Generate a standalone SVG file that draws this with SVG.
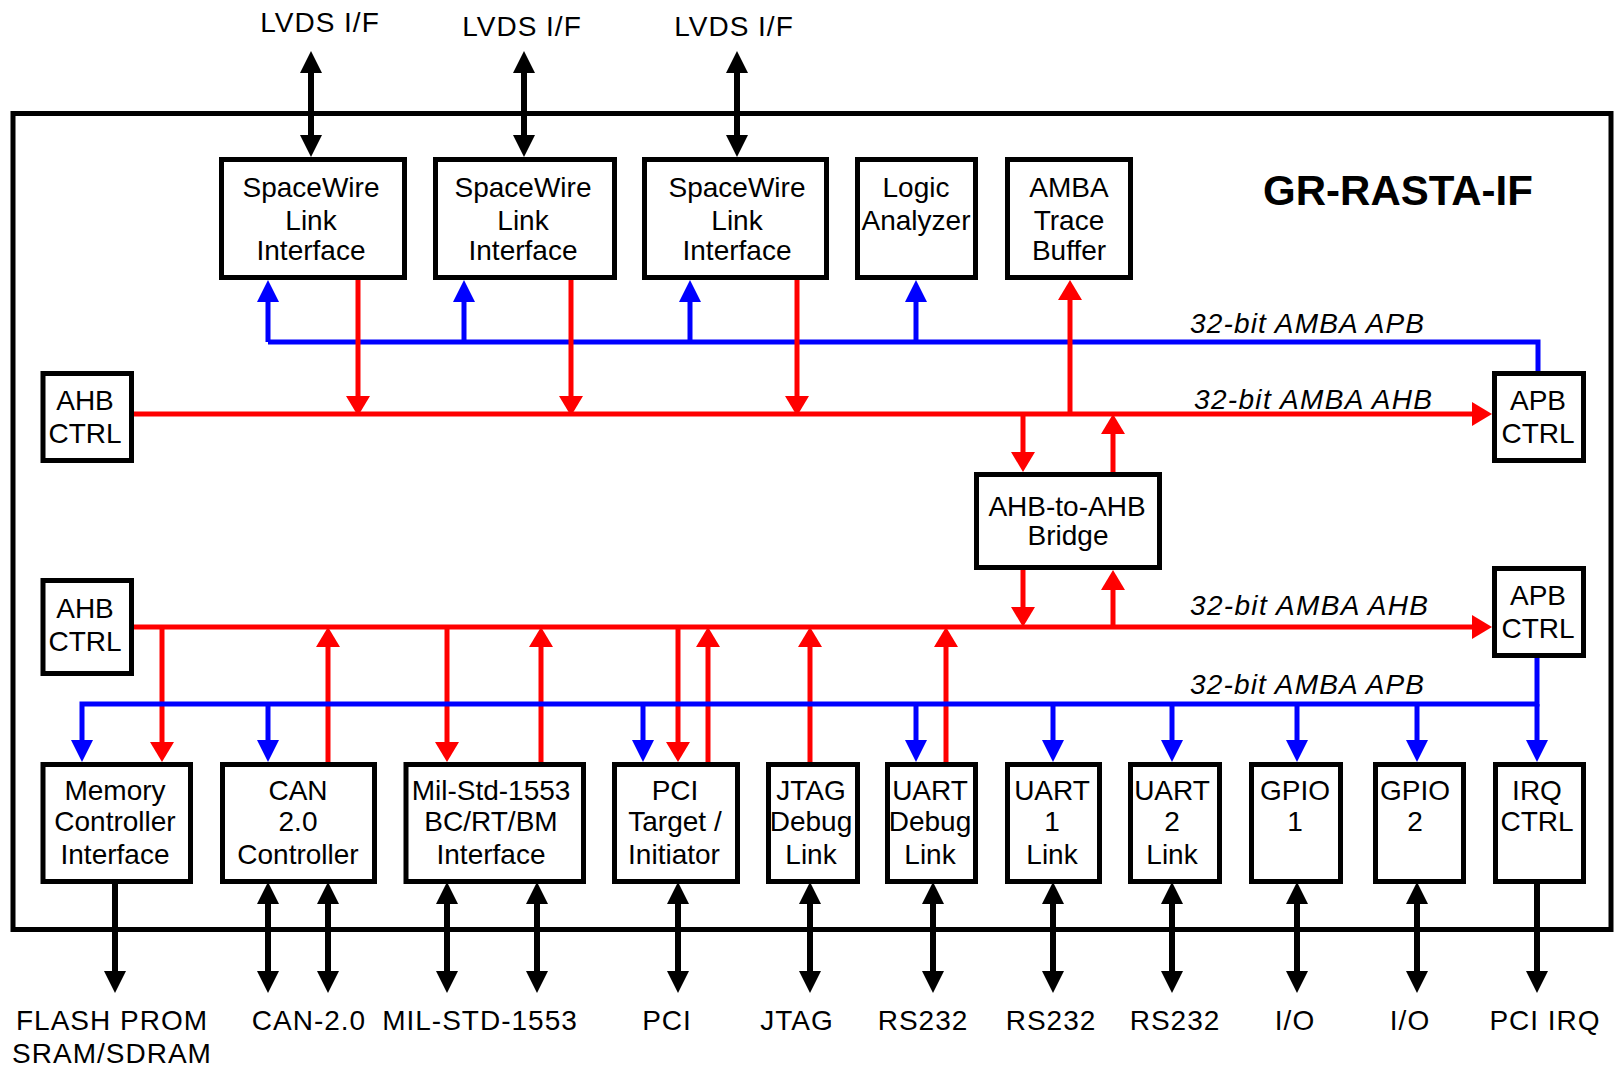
<svg xmlns="http://www.w3.org/2000/svg" width="1617" height="1068" viewBox="0 0 1617 1068">
<style>
.box{fill:#fff;stroke:#000;stroke-width:5}
.frame{fill:none;stroke:#000;stroke-width:5}
text{font-family:"Liberation Sans",Arial,Helvetica,sans-serif;font-size:28px;fill:#000;text-anchor:middle}
.ext text{letter-spacing:1px}
.bus{font-style:italic;text-anchor:start}
.title{font-weight:bold;font-size:42px}
.red{stroke:#f00;stroke-width:5;fill:none}
.blue{stroke:#00f;stroke-width:5;fill:none}
.blk{stroke:#000;stroke-width:6;fill:none}
</style>
<defs>
<marker id="aR" viewBox="0 0 20 24" refX="10" refY="12" markerWidth="20" markerHeight="24" markerUnits="userSpaceOnUse" orient="auto-start-reverse"><path d="M0,0 L20,12 L0,24 z" fill="#f00"/></marker>
<marker id="aB" viewBox="0 0 22 22" refX="12" refY="11" markerWidth="22" markerHeight="22" markerUnits="userSpaceOnUse" orient="auto-start-reverse"><path d="M0,0 L22,11 L0,22 z" fill="#00f"/></marker>
<marker id="aK" viewBox="0 0 22 22" refX="12" refY="11" markerWidth="22" markerHeight="22" markerUnits="userSpaceOnUse" orient="auto-start-reverse"><path d="M0,0 L22,11 L0,22 z" fill="#000"/></marker>
</defs>
<rect width="1617" height="1068" fill="#fff"/>
<g id="chip">
<rect class="frame" x="13" y="113.5" width="1598" height="816"/>
<text class="title" x="1398" y="205">GR-RASTA-IF</text>
</g>
<g id="external-labels" class="ext">
<text x="320" y="32">LVDS I/F</text>
<text x="522" y="36">LVDS I/F</text>
<text x="734" y="36">LVDS I/F</text>
<text x="112" y="1030">FLASH PROM</text>
<text x="112" y="1063">SRAM/SDRAM</text>
<text x="309" y="1030">CAN-2.0</text>
<text x="480" y="1030">MIL-STD-1553</text>
<text x="667" y="1030">PCI</text>
<text x="797" y="1030">JTAG</text>
<text x="923" y="1030">RS232</text>
<text x="1051" y="1030">RS232</text>
<text x="1175" y="1030">RS232</text>
<text x="1295" y="1030">I/O</text>
<text x="1410" y="1030">I/O</text>
<text x="1545" y="1030">PCI IRQ</text>
</g>
<g id="bus-labels">
<text class="bus" x="1190" y="333" textLength="234">32-bit AMBA APB</text>
<text class="bus" x="1194" y="409" textLength="238">32-bit AMBA AHB</text>
<text class="bus" x="1190" y="615" textLength="238">32-bit AMBA AHB</text>
<text class="bus" x="1190" y="694" textLength="234">32-bit AMBA APB</text>
</g>
<g id="connectors">
<path class="blk" d="M311,61 V147" marker-start="url(#aK)" marker-end="url(#aK)"/>
<path class="blk" d="M524,61 V147" marker-start="url(#aK)" marker-end="url(#aK)"/>
<path class="blk" d="M737,61 V147" marker-start="url(#aK)" marker-end="url(#aK)"/>
<path class="blue" d="M268,342 H1538 V371"/>
<path class="blue" d="M268,342 V290" marker-end="url(#aB)"/>
<path class="blue" d="M464,342 V290" marker-end="url(#aB)"/>
<path class="blue" d="M690,342 V290" marker-end="url(#aB)"/>
<path class="blue" d="M916,342 V290" marker-end="url(#aB)"/>
<path class="red" d="M134,414 H1482" marker-end="url(#aR)"/>
<path class="red" d="M358,280 V406" marker-end="url(#aR)"/>
<path class="red" d="M571,280 V406" marker-end="url(#aR)"/>
<path class="red" d="M797,280 V406" marker-end="url(#aR)"/>
<path class="red" d="M1070,414 V290" marker-end="url(#aR)"/>
<path class="red" d="M1023,414 V462" marker-end="url(#aR)"/>
<path class="red" d="M1113,472 V424" marker-end="url(#aR)"/>
<path class="red" d="M1023,570 V617" marker-end="url(#aR)"/>
<path class="red" d="M1113,627 V580" marker-end="url(#aR)"/>
<path class="red" d="M134,627 H1482" marker-end="url(#aR)"/>
<path class="red" d="M162,627 V752" marker-end="url(#aR)"/>
<path class="red" d="M328,762 V637" marker-end="url(#aR)"/>
<path class="red" d="M447,627 V752" marker-end="url(#aR)"/>
<path class="red" d="M541,762 V637" marker-end="url(#aR)"/>
<path class="red" d="M678,627 V752" marker-end="url(#aR)"/>
<path class="red" d="M708,762 V637" marker-end="url(#aR)"/>
<path class="red" d="M810,762 V637" marker-end="url(#aR)"/>
<path class="red" d="M946,762 V637" marker-end="url(#aR)"/>
<path class="blue" d="M1537,658 V704 H82 V752" marker-end="url(#aB)"/>
<path class="blue" d="M268,704 V752" marker-end="url(#aB)"/>
<path class="blue" d="M643,704 V752" marker-end="url(#aB)"/>
<path class="blue" d="M916,704 V752" marker-end="url(#aB)"/>
<path class="blue" d="M1053,704 V752" marker-end="url(#aB)"/>
<path class="blue" d="M1172,704 V752" marker-end="url(#aB)"/>
<path class="blue" d="M1297,704 V752" marker-end="url(#aB)"/>
<path class="blue" d="M1417,704 V752" marker-end="url(#aB)"/>
<path class="blue" d="M1537,704 V752" marker-end="url(#aB)"/>
<path class="blk" d="M115,884 V983" marker-end="url(#aK)"/>
<path class="blk" d="M268,892 V983" marker-start="url(#aK)" marker-end="url(#aK)"/>
<path class="blk" d="M328,892 V983" marker-start="url(#aK)" marker-end="url(#aK)"/>
<path class="blk" d="M447,892 V983" marker-start="url(#aK)" marker-end="url(#aK)"/>
<path class="blk" d="M537,892 V983" marker-start="url(#aK)" marker-end="url(#aK)"/>
<path class="blk" d="M678,892 V983" marker-start="url(#aK)" marker-end="url(#aK)"/>
<path class="blk" d="M810,892 V983" marker-start="url(#aK)" marker-end="url(#aK)"/>
<path class="blk" d="M933,892 V983" marker-start="url(#aK)" marker-end="url(#aK)"/>
<path class="blk" d="M1053,892 V983" marker-start="url(#aK)" marker-end="url(#aK)"/>
<path class="blk" d="M1172,892 V983" marker-start="url(#aK)" marker-end="url(#aK)"/>
<path class="blk" d="M1297,892 V983" marker-start="url(#aK)" marker-end="url(#aK)"/>
<path class="blk" d="M1417,892 V983" marker-start="url(#aK)" marker-end="url(#aK)"/>
<path class="blk" d="M1537,884 V983" marker-end="url(#aK)"/>
</g>
<g id="spw1"><rect class="box" x="221.5" y="159.5" width="183" height="118"/><text x="311" y="197">SpaceWire</text><text x="311" y="230">Link</text><text x="311" y="260">Interface</text></g>
<g id="spw2"><rect class="box" x="435.5" y="159.5" width="179" height="118"/><text x="523" y="197">SpaceWire</text><text x="523" y="230">Link</text><text x="523" y="260">Interface</text></g>
<g id="spw3"><rect class="box" x="644.5" y="159.5" width="182" height="118"/><text x="737" y="197">SpaceWire</text><text x="737" y="230">Link</text><text x="737" y="260">Interface</text></g>
<g id="logic-analyzer"><rect class="box" x="857.5" y="159.5" width="118" height="118"/><text x="916" y="197">Logic</text><text x="916" y="230">Analyzer</text></g>
<g id="amba-trace"><rect class="box" x="1007.5" y="159.5" width="123" height="118"/><text x="1069" y="197">AMBA</text><text x="1069" y="230">Trace</text><text x="1069" y="260">Buffer</text></g>
<g id="ahb-ctrl-1"><rect class="box" x="43" y="373.5" width="88.5" height="87"/><text x="85" y="410">AHB</text><text x="85" y="443">CTRL</text></g>
<g id="apb-ctrl-1"><rect class="box" x="1494.5" y="373.5" width="89" height="87"/><text x="1538" y="410">APB</text><text x="1538" y="443">CTRL</text></g>
<g id="bridge"><rect class="box" x="976.5" y="474.5" width="183" height="93"/><text x="1067" y="516">AHB-to-AHB</text><text x="1068" y="545">Bridge</text></g>
<g id="ahb-ctrl-2"><rect class="box" x="43" y="580.5" width="88.5" height="93"/><text x="85" y="618">AHB</text><text x="85" y="651">CTRL</text></g>
<g id="apb-ctrl-2"><rect class="box" x="1494.5" y="568.5" width="89" height="87"/><text x="1538" y="605">APB</text><text x="1538" y="638">CTRL</text></g>
<g id="memctrl"><rect class="box" x="43" y="764.5" width="147.5" height="117"/><text x="115" y="800">Memory</text><text x="115" y="831">Controller</text><text x="115" y="864">Interface</text></g>
<g id="can"><rect class="box" x="222.5" y="764.5" width="152" height="117"/><text x="298" y="800">CAN</text><text x="298" y="831">2.0</text><text x="298" y="864">Controller</text></g>
<g id="milstd"><rect class="box" x="406" y="764.5" width="177.5" height="117"/><text x="491" y="800">Mil-Std-1553</text><text x="491" y="831">BC/RT/BM</text><text x="491" y="864">Interface</text></g>
<g id="pci"><rect class="box" x="614.5" y="764.5" width="123" height="117"/><text x="675" y="800">PCI</text><text x="675" y="831">Target /</text><text x="674" y="864">Initiator</text></g>
<g id="jtag"><rect class="box" x="768.5" y="764.5" width="89" height="117"/><text x="811" y="800">JTAG</text><text x="811" y="831">Debug</text><text x="811" y="864">Link</text></g>
<g id="uart-debug"><rect class="box" x="887.5" y="764.5" width="88" height="117"/><text x="930" y="800">UART</text><text x="930" y="831">Debug</text><text x="930" y="864">Link</text></g>
<g id="uart1"><rect class="box" x="1007.5" y="764.5" width="92" height="117"/><text x="1052" y="800">UART</text><text x="1052" y="831">1</text><text x="1052" y="864">Link</text></g>
<g id="uart2"><rect class="box" x="1130.5" y="764.5" width="89" height="117"/><text x="1172" y="800">UART</text><text x="1172" y="831">2</text><text x="1172" y="864">Link</text></g>
<g id="gpio1"><rect class="box" x="1251.5" y="764.5" width="89" height="117"/><text x="1295" y="800">GPIO</text><text x="1295" y="831">1</text></g>
<g id="gpio2"><rect class="box" x="1375.5" y="764.5" width="88" height="117"/><text x="1415" y="800">GPIO</text><text x="1415" y="831">2</text></g>
<g id="irq"><rect class="box" x="1495.5" y="764.5" width="88" height="117"/><text x="1537" y="800">IRQ</text><text x="1537" y="831">CTRL</text></g>
</svg>
